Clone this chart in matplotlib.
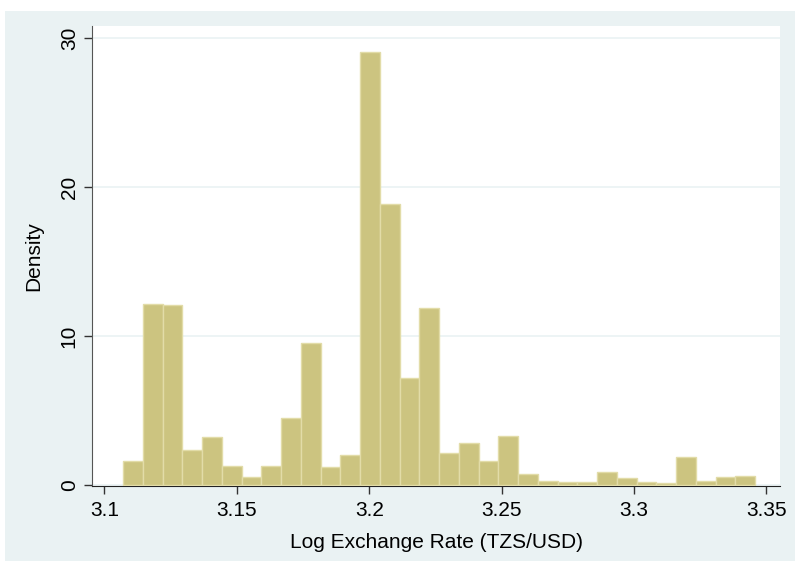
import numpy as np
import matplotlib.pyplot as plt
from matplotlib.patches import Rectangle

# Datos del histograma (densidad por bin)
bin_start = 3.1071
bin_width = 0.007456
densidad = [1.61, 12.13, 12.07, 2.35, 3.22, 1.30, 0.51, 1.30, 4.50, 9.54,
            1.19, 1.99, 29.06, 18.90, 7.16, 11.91, 2.13, 2.80, 1.61, 3.31,
            0.72, 0.27, 0.20, 0.20, 0.85, 0.45, 0.22, 0.13, 1.88, 0.27,
            0.54, 0.60]
x_ticks = [3.1, 3.15, 3.2, 3.25, 3.3, 3.35]
x_tick_labels = ['3.1', '3.15', '3.2', '3.25', '3.3', '3.35']
y_ticks = [0, 10, 20, 30]

bordes = bin_start + bin_width * np.arange(len(densidad) + 1)

plt.rcParams['font.family'] = ['Liberation Sans', 'DejaVu Sans']

fig = plt.figure(figsize=(7.95, 5.61), dpi=100)
fig.patch.set_facecolor('white')
# Fondo gris azulado estilo Stata
fig.patches.append(Rectangle((5 / 795, 0), 1, 1 - 11 / 561, transform=fig.transFigure,
                             facecolor='#EAF2F3', edgecolor='none', zorder=-10))

ax = fig.add_axes([92 / 795, 1 - 486 / 561, (780 - 92) / 795, (486 - 26) / 561])
ax.set_facecolor('white')

ax.bar(bordes[:-1], densidad, width=bin_width, align='edge',
       color='#CCC480', edgecolor='#E2DCA8', linewidth=1.0, zorder=3)

ax.set_xlim(3.0953, 3.3551)
ax.set_ylim(-0.07, 30.83)

ax.set_xticks(x_ticks)
ax.set_xticklabels(x_tick_labels, fontsize=15)
ax.set_yticks(y_ticks)
ax.set_yticklabels([str(v) for v in y_ticks], fontsize=15, rotation=90, va='center')

ax.yaxis.grid(True, color='#EAF2F3', linewidth=1.2, zorder=0)
ax.xaxis.grid(False)
ax.set_axisbelow(True)

for s in ['top', 'right']:
    ax.spines[s].set_visible(False)
ax.spines['left'].set_color('#555555')
ax.spines['bottom'].set_color('#222222')
ax.tick_params(axis='both', direction='out', length=5.5, width=1, color='#333333')
ax.tick_params(axis='x', pad=5)
ax.tick_params(axis='y', pad=4)

ax.set_xlabel('Log Exchange Rate (TZS/USD)', fontsize=15, labelpad=10)
ax.set_ylabel('Density', fontsize=15, labelpad=12)

fig.savefig('out.png', dpi=100)
